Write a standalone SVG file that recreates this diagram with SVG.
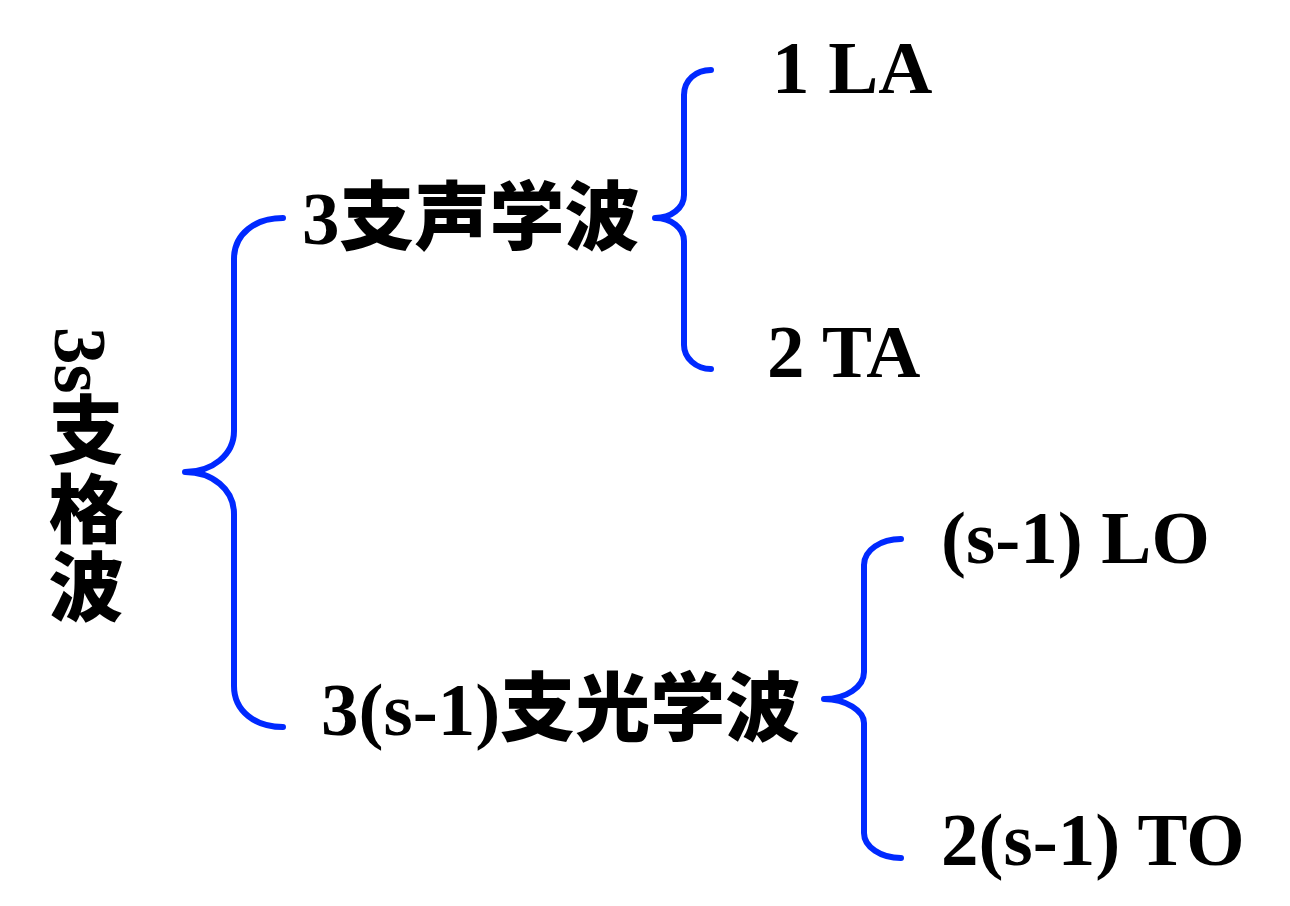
<svg xmlns="http://www.w3.org/2000/svg" width="1290" height="906" viewBox="0 0 1290 906">
<style>
.lbl{font-family:"Liberation Serif","Noto Sans CJK SC",serif;font-weight:bold;font-size:75px;fill:#000}
.cjk{font-family:"Noto Sans CJK SC","Liberation Sans",sans-serif;font-weight:900;font-size:75px;fill:#000}
.brace{fill:none;stroke:#0029FF;stroke-width:6;stroke-linecap:round;stroke-linejoin:round}
</style>
<rect width="1290" height="906" fill="#fff"/>
<g id="connectors">
<path class="brace" d="M283,218 C255,218 234,234 234,259 L234,431 C234,455 212,472 185,472 C212,472 234,489 234,514 L234,686 C234,711 255,727 283,727"/>
<path class="brace" d="M711,70 C696,70 684,80 684,95 L684,195 C684,208 671,218 655,218 C671,218 684,228 684,241 L684,345 C684,358 696,369 711,369"/>
<path class="brace" d="M901,539 C881,539 864,550 864,565 L864,672 C864,687 846,699 824,699 C846,699 864,711 864,723 L864,833 C864,847 881,858 901,858"/>
</g>
<g id="lattice">
<text class="lbl" font-size="72" transform="translate(55,327) rotate(90)">3s</text>
<text class="cjk" x="86" y="392" style="writing-mode:vertical-rl" letter-spacing="3.5">支格波</text>
</g>
<g id="acoustic">
<text class="lbl" x="302" y="244">3<tspan class="cjk">支声学波</tspan></text>
</g>
<g id="la">
<text class="lbl" x="772" y="93">1 LA</text>
</g>
<g id="ta">
<text class="lbl" x="767" y="377">2 TA</text>
</g>
<g id="optical">
<text class="lbl" x="321" y="735">3(s-1)<tspan class="cjk">支光学波</tspan></text>
</g>
<g id="lo">
<text class="lbl" x="941" y="563">(s-1) LO</text>
</g>
<g id="to">
<text class="lbl" x="941" y="865">2(s-1) TO</text>
</g>
</svg>
